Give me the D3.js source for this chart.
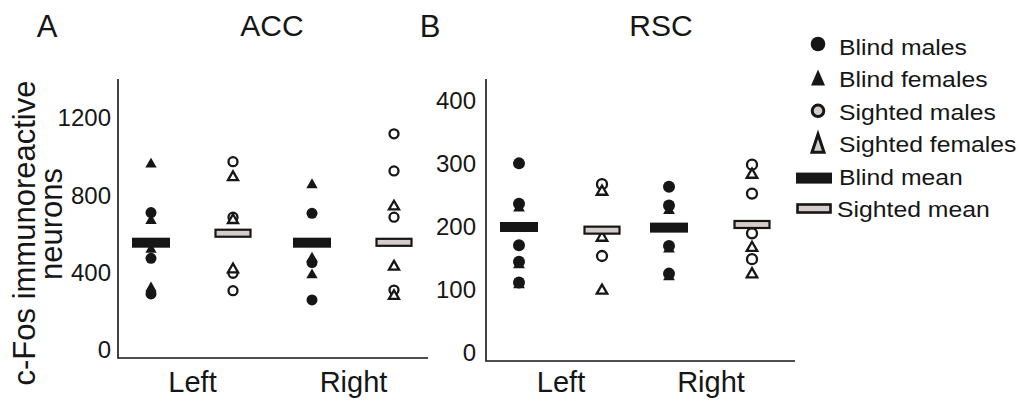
<!DOCTYPE html>
<html>
<head>
<meta charset="utf-8">
<script src="https://cdn.jsdelivr.net/npm/d3@7"></script>
<style>
  body { margin: 0; background: #fff; }
  svg { display: block; font-family: "Liberation Sans", Arial, sans-serif; }
</style>
</head>
<body>
<svg id="fig" width="1018" height="401"></svg>
<script>
// ---- data ----
const sides = ["Left", "Right"];
const groups = ["Blind", "Sighted"];

const accTicks = [0, 400, 800, 1200];
const rscTicks = [0, 100, 200, 300, 400];

// ACC (panel A)
const accLeftBlindMales = [711, 474, 290];
const accLeftBlindFemales = [961, 669, 520, 320];
const accLeftSightedMales = [974, 687, 397, 307];
const accLeftSightedFemales = [894, 672, 417];
const accRightBlindMales = [707, 452, 259];
const accRightBlindFemales = [854, 474, 388];
const accRightSightedMales = [1118, 926, 687, 310];
const accRightSightedFemales = [742, 431, 279];
// means in order Left/Blind, Left/Sighted, Right/Blind, Right/Sighted
const accMeans = [555, 604, 555, 557];

// RSC (panel B)
const rscLeftBlindMales = [301, 237, 171, 145, 112];
const rscLeftBlindFemales = [230, 140, 108];
const rscLeftSightedMales = [268, 154];
const rscLeftSightedFemales = [256, 183, 99];
const rscRightBlindMales = [264, 234, 170, 126];
const rscRightBlindFemales = [226, 165, 121];
const rscRightSightedMales = [299, 253, 190, 149];
const rscRightSightedFemales = [283, 167, 125];
const rscMeans = [200, 195, 199, 204];

const legendLabels = ["Blind males", "Blind females", "Sighted males",
                      "Sighted females", "Blind mean", "Sighted mean"];

// ---- drawing ----
const INK = "#161616";
const PALE = "#d5cdc9";
const svg = d3.select("#fig");

function series(side, group, males, females) {
  return [
    ...males.map(v => ({ side, group, sex: "m", v })),
    ...females.map(v => ({ side, group, sex: "f", v }))
  ];
}

function meanRows(means) {
  const rows = [];
  sides.forEach((s, i) => groups.forEach((g, j) => rows.push({ side: s, group: g, v: means[i * 2 + j] })));
  return rows;
}

function drawPanel(cfg) {
  const g = svg.append("g");
  const y = d3.scaleLinear().domain([0, cfg.max]).range(cfg.yRange);
  const xs = d3.scalePoint().domain(sides).range(cfg.sideRange);
  const xg = d3.scalePoint().domain(groups).range([-cfg.gap, cfg.gap]);
  const cx = d => xs(d.side) + xg(d.group);

  // axis frame
  g.append("path")
    .attr("d", `M${cfg.x0},${cfg.top}V${cfg.base}H${cfg.x1}`)
    .attr("fill", "none").attr("stroke", INK).attr("stroke-width", 1.6);

  const ya = g.append("g")
    .attr("transform", `translate(${cfg.x0},0)`)
    .call(d3.axisLeft(y).tickValues(cfg.ticks).tickSize(0).tickPadding(cfg.pad).tickFormat(d3.format("d")));
  ya.select(".domain").remove();
  ya.attr("font-family", null).attr("font-size", 24);
  ya.selectAll("text").attr("fill", INK);

  const xa = g.append("g")
    .attr("transform", `translate(0,${cfg.base})`)
    .call(d3.axisBottom(xs).tickSize(0).tickPadding(cfg.xpad));
  xa.select(".domain").remove();
  xa.attr("font-family", null).attr("font-size", 29);
  xa.selectAll("text").attr("fill", INK);

  // individual animals
  const pts = g.append("g");
  cfg.points.forEach(d => {
    const blind = d.group === "Blind";
    const px = cx(d), py = y(d.v);
    if (d.sex === "m") {
      pts.append("circle")
        .attr("cx", px).attr("cy", py)
        .attr("r", blind ? cfg.r : cfg.r - 1)
        .attr("fill", blind ? INK : "#fff")
        .attr("stroke", blind ? "none" : INK)
        .attr("stroke-width", 2.3);
    } else {
      pts.append("path")
        .attr("transform", `translate(${px},${py})`)
        .attr("d", d3.symbol(d3.symbolTriangle, blind ? cfg.tri : cfg.tri - 12)())
        .attr("fill", blind ? INK : "#fff")
        .attr("stroke", blind ? "none" : INK)
        .attr("stroke-width", 2.3)
        .attr("stroke-linejoin", "miter");
    }
  });

  // group means on top
  g.append("g").selectAll("rect")
    .data(cfg.means)
    .join("rect")
    .attr("x", d => cx(d) - (d.group === "Blind" ? 19 : 17.5))
    .attr("y", d => y(d.v) - (d.group === "Blind" ? 5 : 3.5))
    .attr("width", d => d.group === "Blind" ? 38 : 35)
    .attr("height", d => d.group === "Blind" ? 10 : 7)
    .attr("fill", d => d.group === "Blind" ? INK : PALE)
    .attr("stroke", d => d.group === "Blind" ? "none" : INK)
    .attr("stroke-width", 2.2);

  // titles
  g.append("text").attr("x", cfg.letterX).attr("y", 37).attr("text-anchor", "middle")
    .attr("font-size", 31).attr("fill", INK).text(cfg.letter);
  g.append("text").attr("x", cfg.titleX).attr("y", 36).attr("text-anchor", "middle")
    .attr("font-size", 30).attr("fill", INK).text(cfg.title);
}

drawPanel({
  letter: "A", letterX: 47, title: "ACC", titleX: 272,
  max: 1200, ticks: accTicks, yRange: [350, 118],
  x0: 118, x1: 428, top: 79, base: 358, pad: 7, xpad: 13,
  sideRange: [192, 353], gap: 41, r: 5.5, tri: 56,
  points: [
    ...series("Left", "Blind", accLeftBlindMales, accLeftBlindFemales),
    ...series("Left", "Sighted", accLeftSightedMales, accLeftSightedFemales),
    ...series("Right", "Blind", accRightBlindMales, accRightBlindFemales),
    ...series("Right", "Sighted", accRightSightedMales, accRightSightedFemales)
  ],
  means: meanRows(accMeans)
});

drawPanel({
  letter: "B", letterX: 430, title: "RSC", titleX: 661,
  max: 400, ticks: rscTicks, yRange: [353, 101],
  x0: 486, x1: 795, top: 79, base: 361, pad: 10, xpad: 10,
  sideRange: [560.5, 710.5], gap: 41.5, r: 6, tri: 60,
  points: [
    ...series("Left", "Blind", rscLeftBlindMales, rscLeftBlindFemales),
    ...series("Left", "Sighted", rscLeftSightedMales, rscLeftSightedFemales),
    ...series("Right", "Blind", rscRightBlindMales, rscRightBlindFemales),
    ...series("Right", "Sighted", rscRightSightedMales, rscRightSightedFemales)
  ],
  means: meanRows(rscMeans)
});

// shared y title
const yt = svg.append("g").attr("fill", INK).attr("font-size", 31);
yt.append("text").attr("transform", "translate(35,233) rotate(-90)")
  .attr("text-anchor", "middle").text("c-Fos immunoreactive");
yt.append("text").attr("transform", "translate(62,224) rotate(-90)")
  .attr("text-anchor", "middle").text("neurons");

// legend
const ly = d3.scalePoint().domain(legendLabels).range([47, 209]);
const leg = svg.append("g");
const tri = (x, yc, w, h) => `M${x},${yc - h / 2}L${x + w / 2},${yc + h / 2}L${x - w / 2},${yc + h / 2}Z`;

legendLabels.forEach((lab, i) => {
  const yc = ly(lab);
  const mx = 818;
  if (i === 0) leg.append("circle").attr("cx", mx).attr("cy", yc - 3).attr("r", 7.3).attr("fill", INK);
  if (i === 1) leg.append("path").attr("d", tri(mx, yc - 2, 14, 16)).attr("fill", INK);
  if (i === 2) leg.append("circle").attr("cx", mx).attr("cy", yc - 1).attr("r", 5.8)
    .attr("fill", PALE).attr("stroke", INK).attr("stroke-width", 3);
  if (i === 3) leg.append("path").attr("d", tri(mx, yc - 1, 12, 18)).attr("fill", PALE)
    .attr("stroke", INK).attr("stroke-width", 3);
  if (i === 4) leg.append("rect").attr("x", 796).attr("y", yc - 4).attr("width", 36).attr("height", 11).attr("fill", INK);
  if (i === 5) leg.append("rect").attr("x", 797.5).attr("y", yc - 4.5).attr("width", 33).attr("height", 8)
    .attr("fill", PALE).attr("stroke", INK).attr("stroke-width", 2.6);
  leg.append("text")
    .attr("transform", `translate(${i === 5 ? 837 : 839},${yc + 8}) scale(1.1,1)`)
    .attr("font-size", 22.5).attr("fill", INK).text(lab);
});
</script>
</body>
</html>
